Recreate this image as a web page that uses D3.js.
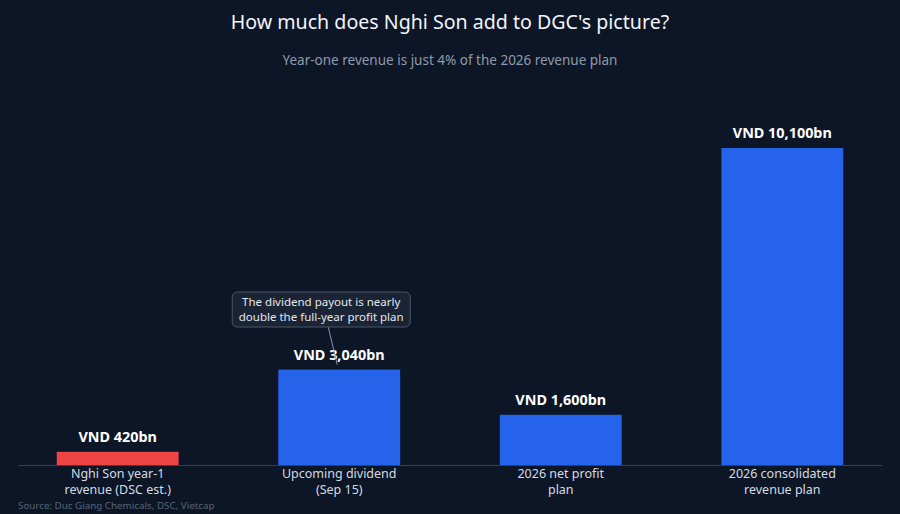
<!DOCTYPE html>
<html>
<head>
<meta charset="utf-8">
<script src="https://cdn.jsdelivr.net/npm/d3@7"></script>
<style>
  html, body { margin: 0; padding: 0; background: #0c1626; }
  svg { display: block; font-family: "Noto Sans", "Open Sans", sans-serif; }
</style>
</head>
<body>
<script>
const categories = [
  ["Nghi Son year-1", "revenue (DSC est.)"],
  ["Upcoming dividend", "(Sep 15)"],
  ["2026 net profit", "plan"],
  ["2026 consolidated", "revenue plan"],
];
const values = [420, 3040, 1600, 10100];
const valueLabels = ["VND 420bn", "VND 3,040bn", "VND 1,600bn", "VND 10,100bn"];
const barColors = ["#ef4444", "#2563eb", "#2563eb", "#2563eb"];
const annotation = ["The dividend payout is nearly", "double the full-year profit plan"];

const width = 900, height = 514;
const margin = { top: 148, right: 18, bottom: 49, left: 18 };

const svg = d3
  .select("body")
  .append("svg")
  .attr("width", width)
  .attr("height", height);

svg.append("rect").attr("width", width).attr("height", height).attr("fill", "#0c1626");

svg
  .append("text")
  .attr("x", width / 2)
  .attr("y", 29)
  .attr("text-anchor", "middle")
  .attr("fill", "#f1f5f9")
  .style("font-size", "19.6px")
  .text("How much does Nghi Son add to DGC's picture?");

svg
  .append("text")
  .attr("x", width / 2)
  .attr("y", 65)
  .attr("text-anchor", "middle")
  .attr("fill", "#8f9aab")
  .style("font-size", "13.5px")
  .text("Year-one revenue is just 4% of the 2026 revenue plan");

const idx = d3.range(values.length);

const x = d3
  .scaleBand()
  .domain(idx)
  .range([margin.left, width - margin.right])
  .paddingInner(0.45)
  .paddingOuter(0.175);

const y = d3
  .scaleLinear()
  .domain([0, d3.max(values)])
  .range([height - margin.bottom, margin.top]);

svg
  .selectAll(".bar")
  .data(idx)
  .join("rect")
  .attr("class", "bar")
  .attr("x", (i) => x(i))
  .attr("y", (i) => y(values[i]))
  .attr("width", x.bandwidth())
  .attr("height", (i) => y(0) - y(values[i]))
  .attr("fill", (i) => barColors[i]);

// baseline
svg
  .append("line")
  .attr("x1", margin.left)
  .attr("x2", width - margin.right)
  .attr("y1", y(0) + 0.5)
  .attr("y2", y(0) + 0.5)
  .attr("stroke", "#334155")
  .attr("stroke-width", 1);

svg
  .selectAll(".val")
  .data(idx)
  .join("text")
  .attr("class", "val")
  .attr("x", (i) => x(i) + x.bandwidth() / 2)
  .attr("y", (i) => y(values[i]) - 10)
  .attr("text-anchor", "middle")
  .attr("fill", "#ffffff")
  .style("font-size", "14.4px")
  .style("font-weight", "bold")
  .text((i) => valueLabels[i]);

// category labels, two lines each
idx.forEach((i) => {
  categories[i].forEach((line, j) => {
    svg
      .append("text")
      .attr("class", "cat")
      .attr("x", x(i) + x.bandwidth() / 2)
      .attr("y", y(0) + 13 + j * 16)
      .attr("text-anchor", "middle")
      .attr("fill", "#d5dbe3")
      .style("font-size", "12.5px")
      .text(line);
  });
});

svg
  .append("text")
  .attr("x", 18)
  .attr("y", 509)
  .attr("fill", "#56647a")
  .style("font-size", "9.8px")
  .text("Source: Duc Giang Chemicals, DSC, Vietcap");

// annotation on the dividend bar
const ax = x(1) + x.bandwidth() / 2 - 18;
const ay = 308;
svg
  .append("line")
  .attr("x1", ax + 7)
  .attr("y1", ay + 19)
  .attr("x2", ax + 16)
  .attr("y2", y(values[1]) - 5)
  .attr("stroke", "#8a94a5")
  .attr("stroke-width", 1);

const note = svg.append("g");
note
  .append("rect")
  .attr("x", ax - 89)
  .attr("y", ay - 16)
  .attr("width", 178)
  .attr("height", 35)
  .attr("rx", 5)
  .attr("fill", "#1b2434")
  .attr("stroke", "#4b5566");
note
  .selectAll("text")
  .data(annotation)
  .join("text")
  .attr("x", ax)
  .attr("y", (d, j) => ay - 2 + j * 15)
  .attr("text-anchor", "middle")
  .attr("fill", "#e2e8f0")
  .style("font-size", "11.5px")
  .text((d) => d);
</script>
</body>
</html>
